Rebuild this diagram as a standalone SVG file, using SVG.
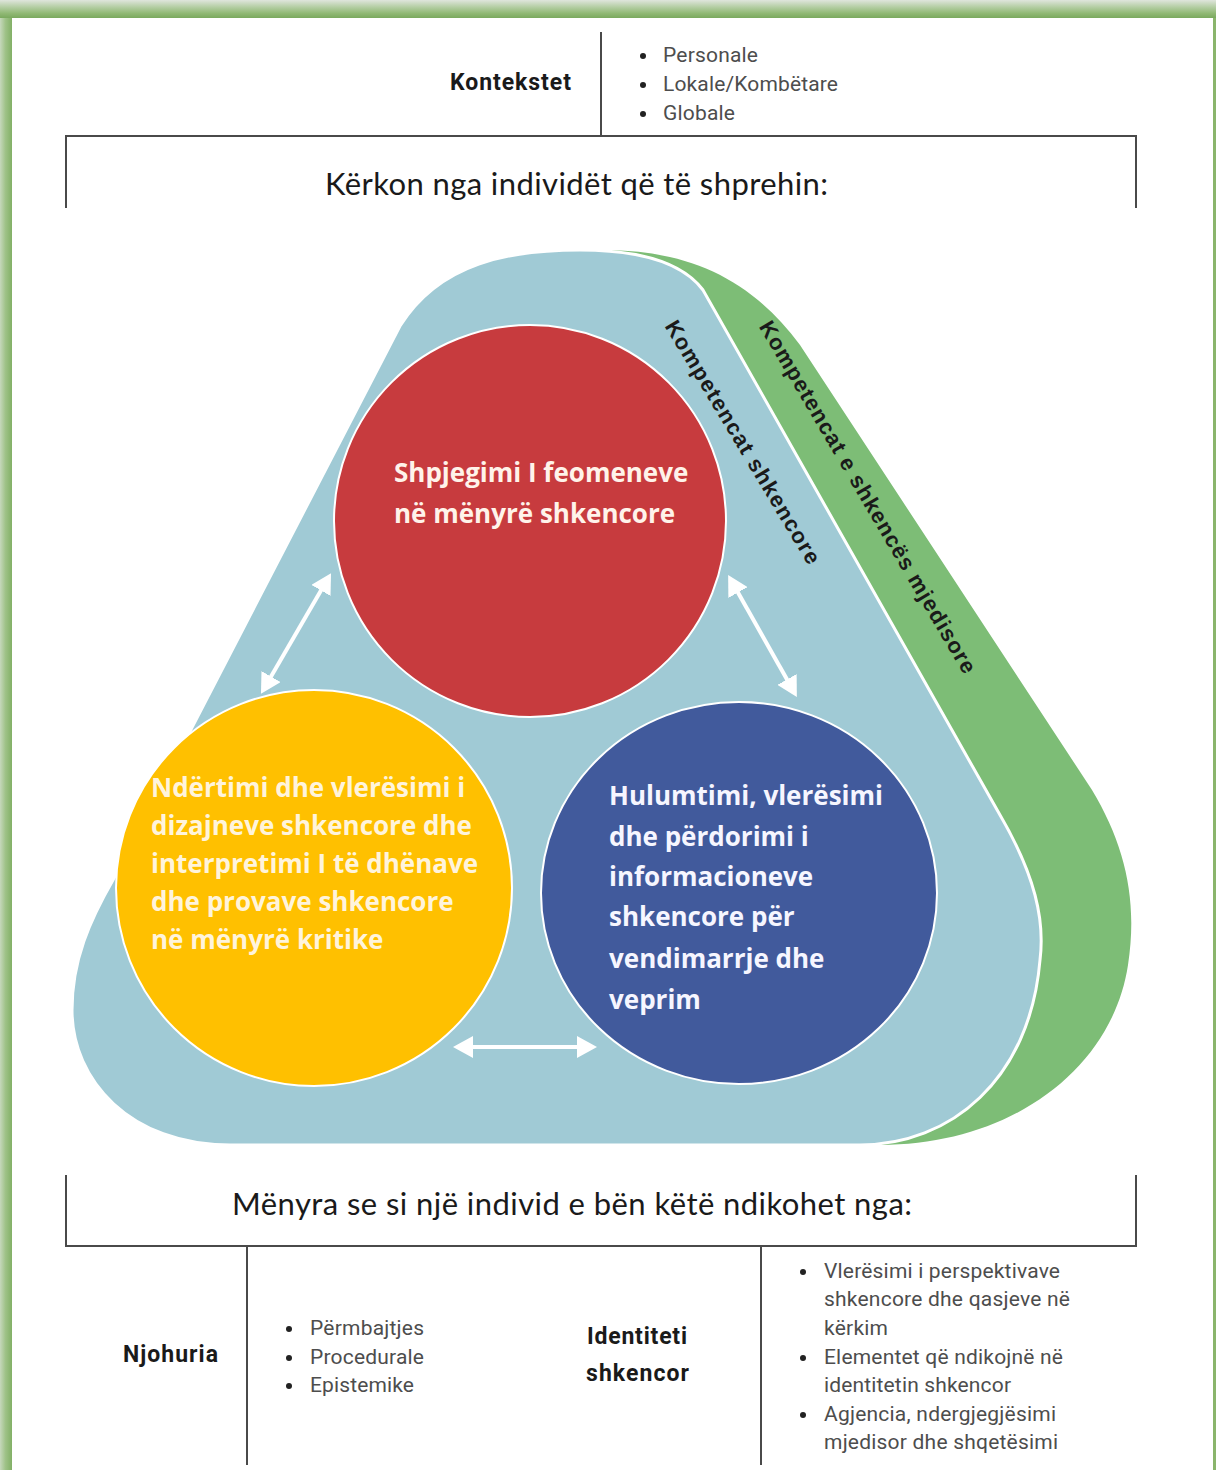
<svg xmlns="http://www.w3.org/2000/svg" width="1216" height="1470" viewBox="0 0 1216 1470">
<defs>
<linearGradient id="gTop" x1="0" y1="0" x2="0" y2="1">
<stop offset="0" stop-color="#dfe5dc"/>
<stop offset="0.4" stop-color="#b3cda2"/>
<stop offset="0.75" stop-color="#8fb873"/>
<stop offset="1" stop-color="#7aa95e"/>
</linearGradient>
<linearGradient id="gLeft" x1="0" y1="0" x2="1" y2="0">
<stop offset="0" stop-color="#c6d8bc"/>
<stop offset="0.45" stop-color="#9fc288"/>
<stop offset="1" stop-color="#82b066"/>
</linearGradient>
<marker id="ah" viewBox="0 0 20 22" markerWidth="20" markerHeight="22" refX="4" refY="11" orient="auto-start-reverse" markerUnits="userSpaceOnUse">
<path d="M0,0 L20,11 L0,22 Z" fill="#ffffff"/>
</marker>
<style>
.bold{font-family:"Roboto","Liberation Sans",sans-serif;font-weight:bold;fill:#1a1a1a;}
.item{font-family:"Roboto","Liberation Sans",sans-serif;font-size:21px;fill:#4d4d4d;}
.dot{fill:#222222;}
.head{font-family:"Lato","Open Sans",sans-serif;font-size:31px;fill:#1a1a1a;}
.ctext{font-family:"Open Sans","Lato",sans-serif;font-weight:bold;font-size:26px;}
.rot{font-family:"Liberation Sans","Arial",sans-serif;font-weight:bold;font-size:22px;fill:#1a1a1a;}
.rule{stroke:#4a4a4a;stroke-width:2;fill:none;}
.conn{stroke:#ffffff;stroke-width:4;fill:none;marker-start:url(#ah);marker-end:url(#ah);}
</style>
</defs>
<rect x="0" y="0" width="1216" height="1470" fill="#ffffff"/>
<g id="frame">
<rect x="0" y="0" width="12" height="1470" fill="url(#gLeft)"/>
<rect x="0" y="0" width="1216" height="18" fill="url(#gTop)"/>
<rect x="1213" y="18" width="3" height="1452" fill="#8ab56c"/>
</g>
<g id="contexts">
<text class="bold" x="571" y="90" font-size="23" text-anchor="end" textLength="121">Kontekstet</text>
<line class="rule" x1="601" y1="32" x2="601" y2="136"/>
<circle class="dot" cx="643" cy="56" r="3"/>
<text class="item" x="663" y="62" textLength="95">Personale</text>
<circle class="dot" cx="643" cy="85" r="3"/>
<text class="item" x="663" y="91" textLength="175">Lokale/Kombëtare</text>
<circle class="dot" cx="643" cy="114" r="3"/>
<text class="item" x="663" y="120" textLength="72">Globale</text>
</g>
<g id="header-box">
<polyline class="rule" points="66,208 66,136 1136,136 1136,208"/>
<text class="head" x="325" y="195" textLength="503">Kërkon nga individët që të shprehin:</text>
</g>
<g id="env-competences">
<path d="M 610 250 C 690 252 750 278 800 345 L 1092 790 C 1125 845 1138 900 1128 965 C 1112 1070 1010 1145 880 1145 L 700 900 Z" fill="#7dbd76"/>
<text class="rot" transform="translate(868,497) rotate(59.5)" text-anchor="middle" dy="0.35em" textLength="405">Kompetencat e shkencës mjedisore</text>
</g>
<g id="sci-competences">
<path d="M 580 250 C 640 250 682 262 703 290 L 1000 815 C 1035 875 1045 920 1040 960 C 1030 1080 950 1145 860 1145 L 230 1145 C 130 1145 72 1080 72 1010 C 72 960 90 920 113 880 L 400 326 C 440 262 510 250 580 250 Z" fill="#a0cad5" stroke="#ffffff" stroke-width="3"/>
<text class="rot" transform="translate(743,442) rotate(59)" text-anchor="middle" dy="0.35em" textLength="280">Kompetencat shkencore</text>
</g>
<g id="circle-explain">
<circle cx="530" cy="521" r="196" fill="#c73b3e" stroke="#ffffff" stroke-width="2"/>
<text class="ctext" fill="#fff3ea" x="394" y="482">Shpjegimi I feomeneve</text>
<text class="ctext" fill="#fff3ea" x="394" y="523">në mënyrë shkencore</text>
</g>
<g id="circle-design">
<circle cx="314" cy="888" r="198" fill="#ffc000" stroke="#ffffff" stroke-width="2"/>
<text class="ctext" fill="#fff4dc" x="151" y="797" font-size="24.7">Ndërtimi dhe vlerësimi i</text>
<text class="ctext" fill="#fff4dc" x="151" y="835" font-size="24.7">dizajneve shkencore dhe</text>
<text class="ctext" fill="#fff4dc" x="151" y="873" font-size="24.7">interpretimi I të dhënave</text>
<text class="ctext" fill="#fff4dc" x="151" y="911" font-size="24.7">dhe provave shkencore</text>
<text class="ctext" fill="#fff4dc" x="151" y="949" font-size="24.7">në mënyrë kritike</text>
</g>
<g id="circle-research">
<ellipse cx="739" cy="893" rx="198" ry="191" fill="#415a9c" stroke="#ffffff" stroke-width="2"/>
<text class="ctext" fill="#f6f6ff" x="609" y="805">Hulumtimi, vlerësimi</text>
<text class="ctext" fill="#f6f6ff" x="609" y="846">dhe përdorimi i</text>
<text class="ctext" fill="#f6f6ff" x="609" y="886">informacioneve</text>
<text class="ctext" fill="#f6f6ff" x="609" y="926">shkencore për</text>
<text class="ctext" fill="#f6f6ff" x="609" y="968">vendimarrje dhe</text>
<text class="ctext" fill="#f6f6ff" x="609" y="1009">veprim</text>
</g>
<g id="connectors">
<line class="conn" x1="269" y1="680" x2="323" y2="587"/>
<line class="conn" x1="736" y1="589" x2="789" y2="683"/>
<line class="conn" x1="469" y1="1047" x2="581" y2="1047"/>
</g>
<g id="footer-box">
<polyline class="rule" points="66,1175 66,1246 1136,1246 1136,1175"/>
<text class="head" x="232" y="1215" textLength="680">Mënyra se si një individ e bën këtë ndikohet nga:</text>
</g>
<g id="influences">
<line class="rule" x1="247" y1="1246" x2="247" y2="1465"/>
<line class="rule" x1="761" y1="1246" x2="761" y2="1465"/>
<text class="bold" x="123" y="1362" font-size="23" textLength="95">Njohuria</text>
<circle class="dot" cx="289" cy="1329" r="3"/>
<text class="item" x="310" y="1335" textLength="114">Përmbajtjes</text>
<circle class="dot" cx="289" cy="1358" r="3"/>
<text class="item" x="310" y="1364" textLength="114">Procedurale</text>
<circle class="dot" cx="289" cy="1386" r="3"/>
<text class="item" x="310" y="1392" textLength="104">Epistemike</text>
<text class="bold" x="587" y="1344" font-size="23" textLength="100">Identiteti</text>
<text class="bold" x="586" y="1381" font-size="23" textLength="103">shkencor</text>
<circle class="dot" cx="803" cy="1272" r="3"/>
<text class="item" x="824" y="1278" textLength="236">Vlerësimi i perspektivave</text>
<text class="item" x="824" y="1306" textLength="246">shkencore dhe qasjeve në</text>
<text class="item" x="824" y="1335" textLength="64">kërkim</text>
<circle class="dot" cx="803" cy="1358" r="3"/>
<text class="item" x="824" y="1364" textLength="239">Elementet që ndikojnë në</text>
<text class="item" x="824" y="1392" textLength="187">identitetin shkencor</text>
<circle class="dot" cx="803" cy="1415" r="3"/>
<text class="item" x="824" y="1421" textLength="232">Agjencia, ndergjegjësimi</text>
<text class="item" x="824" y="1449" textLength="234">mjedisor dhe shqetësimi</text>
</g>
</svg>
